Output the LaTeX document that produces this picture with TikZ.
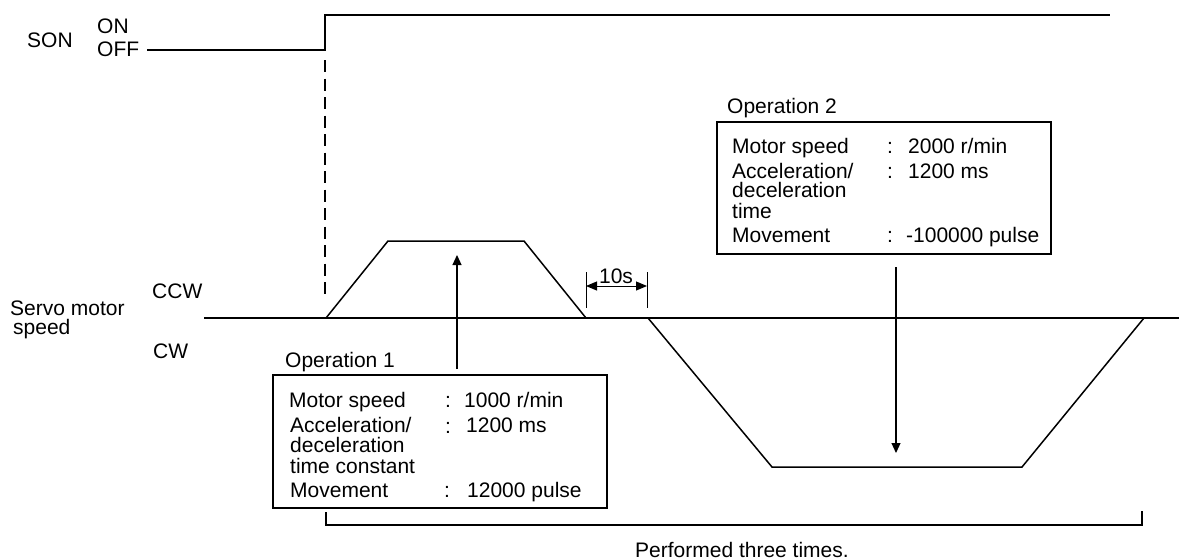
\documentclass[tikz,border=0pt]{standalone}
\usepackage{fontspec}
\setmainfont{Liberation Sans}
\usetikzlibrary{arrows.meta}
\begin{document}
\begin{tikzpicture}[x=1pt,y=-1pt,
  txt/.style={anchor=base west,inner sep=0pt,font=\fontsize{21}{24}\selectfont},
  ctxt/.style={anchor=base,inner sep=0pt,font=\fontsize{21}{24}\selectfont},
  ln/.style={line width=1.3pt},
  axis/.style={line width=2pt},
  opbox/.style={draw,line width=1.5pt,anchor=north west,inner sep=0pt,minimum width=334pt},
  tip/.style={-{Triangle[length=10pt,width=9pt]}},
  dimtip/.style={{Triangle[length=11pt,width=9pt]}-{Triangle[length=11pt,width=9pt]}}
]
\useasboundingbox (0,0) rectangle (1179,560);

% SON signal
\node[txt] (son) at (27,47) {SON};
\node[txt] (on) at (97,33.5) {ON};
\node[txt] (off) at (97,56.7) {OFF};
\coordinate (s0) at (147,50);
\coordinate (s1) at (325,50);
\coordinate (s2) at (325,15);
\coordinate (s3) at (1110,15);
\draw[ln,line width=1.1pt] (s0) -- (s1) -- (s2) -- (s3);
\coordinate (d0) at (325,60);
\coordinate (d1) at (325,300);
\draw[ln,dash pattern=on 12pt off 6.5pt] (d0) -- (d1);

% axis labels
\node[txt] (servo) at (10,315) {Servo motor};
\node[txt] (speed) at (13,334) {speed};
\node[txt] (ccw) at (152,298) {CCW};
\node[txt] (cw) at (153,358) {CW};
\coordinate (ax0) at (204,318);
\coordinate (ax1) at (1179,318);
\draw[axis] (ax0) -- (ax1);

% trapezoid 1 (CCW)
\coordinate (t1a) at (326,318);
\coordinate (t1b) at (388,241);
\coordinate (t1c) at (524,241);
\coordinate (t1d) at (586,318);
\draw[line width=1.5pt] (t1a) -- (t1b) -- (t1c) -- (t1d);

% trapezoid 2 (CW)
\coordinate (t2a) at (648,318);
\coordinate (t2b) at (772,467);
\coordinate (t2c) at (1022,467);
\coordinate (t2d) at (1144,318);
\draw[line width=1.5pt] (t2a) -- (t2b) -- (t2c) -- (t2d);

% 10s dimension
\coordinate (k1a) at (586,272);
\coordinate (k1b) at (586,308);
\coordinate (k2a) at (647,272);
\coordinate (k2b) at (647,308);
\draw[line width=1pt] (k1a) -- (k1b) (k2a) -- (k2b);
\coordinate (m1) at (586,286);
\coordinate (m2) at (647,286);
\draw[line width=1pt,dimtip] (m1) -- (m2);
\node[ctxt] (ten) at (616,283) {10s};

% Operation 1 box
\node[txt] (op1t) at (285,367) {Operation 1};
\node[opbox,minimum height=133pt] (op1) at (272,374) {};
\node[txt] (a1) at (289,407) {Motor speed};
\node[txt] (a1c) at (445,407) {:};
\node[txt] (a1v) at (464,407) {1000 r/min};
\node[txt] (a2) at (290,432) {Acceleration/};
\node[txt] (a2c) at (445,433) {:};
\node[txt] (a2v) at (466,432) {1200 ms};
\node[txt] (a3) at (290,452) {deceleration};
\node[txt] (a4) at (290,473) {time constant};
\node[txt] (a5) at (290,497) {Movement};
\node[txt] (a5c) at (444,497) {:};
\node[txt] (a5v) at (467,497) {12000 pulse};
\coordinate (up0) at (457,369);
\coordinate (up1) at (457,255);
\draw[line width=1.1pt,tip] (up0) -- (up1);

% Operation 2 box
\node[txt] (op2t) at (727,113) {Operation 2};
\node[opbox,minimum height=132pt] (op2) at (716,121) {};
\node[txt] (b1) at (732,153) {Motor speed};
\node[txt] (b1c) at (887,153) {:};
\node[txt] (b1v) at (908,153) {2000 r/min};
\node[txt] (b2) at (732,178) {Acceleration/};
\node[txt] (b2c) at (887,178) {:};
\node[txt] (b2v) at (908,178) {1200 ms};
\node[txt] (b3) at (732,197) {deceleration};
\node[txt] (b4) at (732,218) {time};
\node[txt] (b5) at (732,242) {Movement};
\node[txt] (b5c) at (887,242) {:};
\node[txt] (b5v) at (906,242) {-100000 pulse};
\coordinate (dn0) at (896,267);
\coordinate (dn1) at (896,453);
\draw[line width=1.1pt,tip] (dn0) -- (dn1);

% bracket
\coordinate (br0) at (326,512);
\coordinate (br1) at (326,525);
\coordinate (br2) at (1142,525);
\coordinate (br3) at (1142,511);
\draw[line width=1.1pt] (br0) -- (br1) -- (br2) -- (br3);
\node[txt] (perf) at (635,557) {Performed three times.};
\end{tikzpicture}
\end{document}
